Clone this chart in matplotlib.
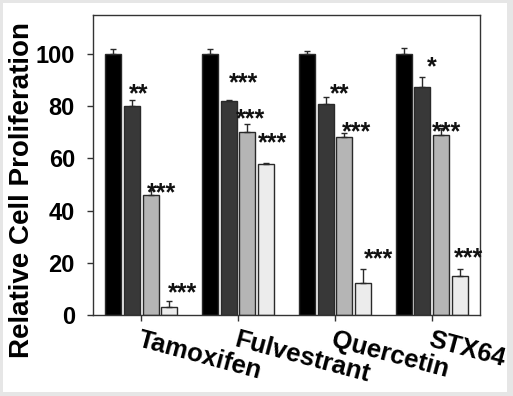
import numpy as np
from matplotlib import pyplot as plt
from matplotlib.patches import Rectangle

plt.rcParams["font.family"] = ["Liberation Sans", "DejaVu Sans"]

# data
drugs = ["Tamoxifen", "Fulvestrant", "Quercetin", "STX64"]
vals_c1 = [100, 100, 100, 100]
vals_c2 = [80, 82, 81, 87.4]
vals_c3 = [46, 70, 68.2, 69.1]
vals_c4 = [3, 58, 12.1, 14.9]
err_c1 = [2.0, 2.0, 1.3, 2.4]
err_c2 = [2.6, 0.3, 2.5, 3.7]
err_c3 = [2.0, 3.3, 1.4, 2.4]
err_c4 = [2.3, 0.3, 5.6, 2.8]
yticks = [0, 20, 40, 60, 80, 100]

# significance marks: (drug index, bar index, label, star height)
stars = [
    (0, 1, "**", 88.1), (0, 2, "***", 49.8), (0, 3, "***", 11.5),
    (1, 1, "***", 92.3), (1, 2, "***", 78.2), (1, 3, "***", 69.3),
    (2, 1, "**", 88.1), (2, 2, "***", 73.2), (2, 3, "***", 24.7),
    (3, 1, "*", 98.1), (3, 2, "***", 73.2), (3, 3, "***", 24.9),
]
star_dx = {(0, 1): 0.07, (0, 2): 0.11, (0, 3): 0.14,
           (1, 1): 0.15, (1, 2): 0.03, (1, 3): 0.07,
           (2, 1): 0.15, (2, 2): 0.13, (2, 3): 0.16,
           (3, 1): 0.10, (3, 2): 0.06, (3, 3): 0.09}

fig = plt.figure(figsize=(5.13, 3.96), dpi=100, facecolor="#e6e6e6")
fig.patches.append(Rectangle((3 / 513, 4 / 396), 504 / 513, 389 / 396,
                             transform=fig.transFigure, facecolor="white",
                             edgecolor="none", zorder=-10))
ax = fig.add_axes([93 / 513, 81 / 396, 387 / 513, 300 / 396])

x = np.arange(len(drugs))
step = 0.193
width = 0.165
colors = ["#000000", "#383838", "#b5b5b5", "#ececec"]
series = [(vals_c1, err_c1), (vals_c2, err_c2), (vals_c3, err_c3), (vals_c4, err_c4)]
for i, (v, e) in enumerate(series):
    pos = x + (i - 1.5) * step
    ax.bar(pos, v, width, color=colors[i], edgecolor="#2a2a2a", linewidth=1.0, zorder=2)
    ax.errorbar(pos, v, yerr=[np.zeros(len(v)), e], fmt="none", ecolor="#2a2a2a",
                elinewidth=1.0, capsize=2.5, capthick=1.0, zorder=3)

for g, b, lab, h in stars:
    xs = g + (b - 1.5) * step + star_dx[(g, b)]
    ax.text(xs, h - 6.0, lab, ha="center", va="baseline", fontsize=18,
            fontweight="bold", color="#111111")

ax.set_xlim(-0.5, 3.5)
ax.set_ylim(0, 115)
ax.set_yticks(yticks)
ax.set_yticklabels([str(t) for t in yticks], fontsize=17, fontweight="bold")
ax.set_xticks(x)
ax.set_xticklabels([])
ax.tick_params(axis="both", direction="out", length=4, width=1, color="#333333")
ax.tick_params(axis="y", pad=9)
for s in ax.spines.values():
    s.set_color("#333333")
    s.set_linewidth(1.0)

for i, name in enumerate(drugs):
    ax.annotate(name, xy=(i, 0), xycoords=("data", "axes fraction"),
                xytext=(0, -9), textcoords="offset points",
                ha="left", va="top", rotation=-15, rotation_mode="anchor",
                fontsize=18.5, fontweight="bold")

fig.text(22 / 513, 0.52, "Relative Cell Proliferation", rotation=90,
         ha="center", va="center", fontsize=20, fontweight="bold")

plt.savefig("out.png", dpi=100, facecolor=fig.get_facecolor())
